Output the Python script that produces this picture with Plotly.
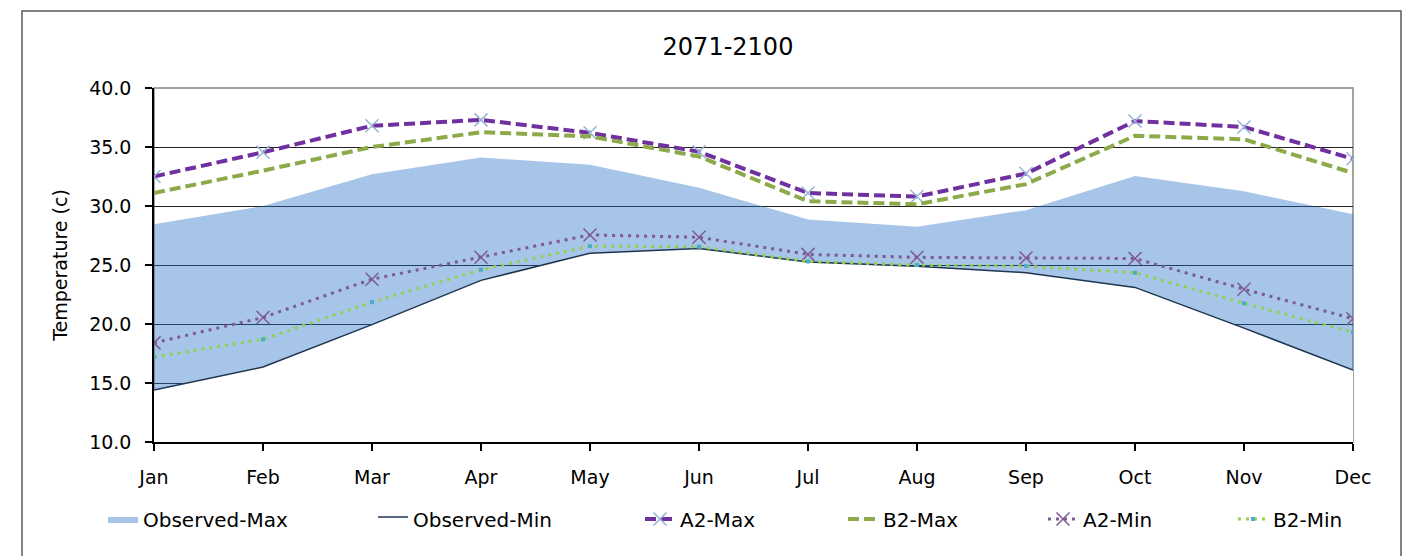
import plotly.graph_objects as go

months = ["Jan", "Feb", "Mar", "Apr", "May", "Jun", "Jul", "Aug", "Sep", "Oct", "Nov", "Dec"]
observed_max = [28.45, 30.0, 32.7, 34.1, 33.5, 31.55, 28.85, 28.25, 29.65, 32.55, 31.25, 29.3]
observed_min = [14.4, 16.35, 19.95, 23.7, 26.0, 26.4, 25.25, 24.9, 24.35, 23.1, 19.65, 16.1]
a2_max = [32.5, 34.55, 36.8, 37.3, 36.2, 34.6, 31.1, 30.8, 32.75, 37.2, 36.7, 34.0]
b2_max = [31.1, 33.0, 35.0, 36.25, 35.9, 34.2, 30.4, 30.15, 31.85, 35.95, 35.65, 32.8]
a2_min = [18.4, 20.55, 23.8, 25.65, 27.55, 27.35, 25.9, 25.65, 25.6, 25.55, 22.95, 20.45]
b2_min = [17.2, 18.7, 21.85, 24.6, 26.6, 26.55, 25.3, 25.0, 24.9, 24.35, 21.75, 19.3]
y_ticks = [10, 15, 20, 25, 30, 35, 40]

FONT = "DejaVu Sans"
OFF = 8  # default page body margin
W, H = 1415 - OFF, 556 - OFF
ML, MT = 154 - OFF, 88 - OFF
PW, PH = 1199, 354
MR, MB = W - ML - PW, H - MT - PH


def px_x(px):
    return (px - OFF - ML) / PW


def px_y(py):
    return (MT + PH - (py - OFF)) / PH


fig = go.Figure()

fig.add_trace(go.Scatter(
    x=months, y=observed_max, name="Observed-Max", mode="lines",
    line=dict(color="rgba(35,110,197,0.4)", width=0),
    fill="tozeroy", fillcolor="rgba(35,110,197,0.4)", legend="legend"))
fig.add_trace(go.Scatter(
    x=months, y=observed_min, name="Observed-Min", mode="lines",
    line=dict(color="#1F3550", width=1.5),
    fill="tozeroy", fillcolor="white", legend="legend2"))
fig.add_trace(go.Scatter(
    x=months, y=a2_max, name="A2-Max", mode="lines+markers",
    line=dict(color="#7030A0", width=4, dash="11px,5px"),
    marker=dict(symbol="x-thin", size=13, line=dict(color="#95B3D7", width=1.5)),
    legend="legend3"))
fig.add_trace(go.Scatter(
    x=months, y=b2_max, name="B2-Max", mode="lines",
    line=dict(color="#8DAA4B", width=4, dash="11px,5px"),
    legend="legend4"))
fig.add_trace(go.Scatter(
    x=months, y=a2_min, name="A2-Min", mode="lines+markers",
    line=dict(color="#7E5A94", width=3, dash="3px,5px"),
    marker=dict(symbol="x-thin", size=13, line=dict(color="#7E5A94", width=1.5)),
    legend="legend5"))
fig.add_trace(go.Scatter(
    x=months, y=b2_min, name="B2-Min", mode="lines+markers",
    line=dict(color="#92D050", width=3, dash="3px,5px"),
    marker=dict(symbol="square", size=4, color="#4BACC6"),
    legend="legend6"))

legend_text_px = [145, 415, 682, 885, 1085, 1275]
legend_names = ["legend", "legend2", "legend3", "legend4", "legend5", "legend6"]
leg_y = px_y(519)
legend_layouts = {}
for name, tx in zip(legend_names, legend_text_px):
    legend_layouts[name] = dict(
        x=px_x(tx - 42), y=leg_y, xanchor="left", yanchor="middle",
        orientation="h", bgcolor="rgba(0,0,0,0)", borderwidth=0,
        font=dict(family=FONT, size=20, color="black"))

fig.update_layout(
    width=W, height=H,
    margin=dict(l=ML, r=MR, t=MT, b=MB),
    paper_bgcolor="white", plot_bgcolor="white",
    title=dict(text="2071-2100", x=(728 - OFF) / W, xref="container", xanchor="center",
               y=1 - (47 - OFF) / H, yref="container", yanchor="middle",
               font=dict(family=FONT, size=24, color="black")),
    font=dict(family=FONT, color="black"),
    xaxis=dict(type="category", range=[0, 11], showgrid=False,
               showline=True, linecolor="black", linewidth=1.5,
               ticks="outside", ticklen=7, tickcolor="black", tickwidth=1.5,
               tickfont=dict(family=FONT, size=19, color="black"),
               ticklabelstandoff=10, zeroline=False),
    yaxis=dict(range=[10, 40], tickvals=y_ticks, tickformat=".1f",
               showgrid=True, gridcolor="#222222", gridwidth=1,
               showline=True, linecolor="black", linewidth=1.5,
               ticks="outside", ticklen=7, tickcolor="black", tickwidth=1.5,
               tickfont=dict(family=FONT, size=19, color="black"),
               ticklabelstandoff=10, zeroline=False,
               title=dict(text="Temperature (c)", standoff=16,
                          font=dict(family=FONT, size=19, color="black"))),
    showlegend=True,
    **legend_layouts,
    shapes=[
        dict(type="rect", xref="paper", yref="paper", x0=0, x1=1, y0=0, y1=1,
             line=dict(color="#868686", width=1.5), layer="below"),
        dict(type="rect", xref="paper", yref="paper",
             x0=px_x(22), x1=px_x(1401), y0=px_y(575), y1=px_y(11),
             line=dict(color="#595959", width=1.5), layer="below"),
    ],
)

fig.write_html("out.html")
